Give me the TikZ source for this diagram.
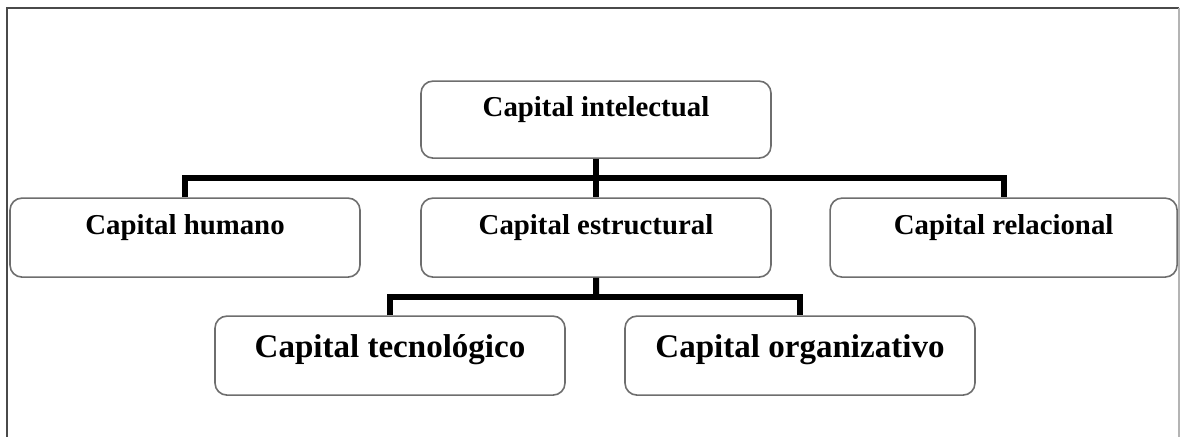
\documentclass[tikz,border=0pt]{standalone}
\usepackage{fontspec}
\setmainfont{Liberation Serif}
\usepackage{tikz}
\usetikzlibrary{calc}
\definecolor{boxframe}{HTML}{6E6E6E}
\definecolor{frameline}{HTML}{4A4A4A}
\definecolor{framelight}{HTML}{B4B4B4}

\begin{document}
\begin{tikzpicture}[
    every node/.style={font=\bfseries},
    capbox/.style={
        rectangle,
        rounded corners=0.3cm,
        minimum width=8.75cm,
        inner sep=0pt,
        draw=boxframe,
        line width=0.04cm,
        text height=0.9cm,
        text depth=1.075cm,
        font=\bfseries\fontsize{20.5}{24}\selectfont
    },
    subbox/.style={
        capbox,
        text height=1.025cm,
        text depth=0.95cm,
        font=\bfseries\fontsize{23.5}{28}\selectfont
    },
    link/.style={line width=0.15cm, black}
]
    \useasboundingbox (0,0) rectangle (29.525,-10.925);
    \fill[white] (0,0) rectangle (29.525,-10.925);

    % === OUTER FRAME ===
    \draw[frameline, line width=0.05cm] (0.175,-10.925) -- (0.175,-0.2) -- (29.475,-0.2);
    \draw[framelight, line width=0.05cm] (29.475,-0.2) -- (29.475,-10.925);

    % === TOP LEVEL ===
    \node[capbox, text height=0.875cm, text depth=1.05cm] (intel) at (14.9,-2.99) {Capital intelectual};

    % === SECOND LEVEL ===
    \node[capbox] (humano) at (4.625,-5.94) {Capital humano};
    \node[capbox] (estructural) at (14.9,-5.94) {Capital estructural};
    \node[capbox, minimum width=8.675cm] (relacional) at (25.09,-5.94) {Capital relacional};

    % === THIRD LEVEL ===
    \node[subbox] (tecnologico) at (9.75,-8.89) {Capital tecnológico};
    \node[subbox] (organizativo) at (20.0,-8.89) {Capital organizativo};

    % Connectors from intel to second level
    \coordinate (barA) at ($(intel.south)!0.5!(estructural.north)$);
    \draw[link] (intel.south) -- (estructural.north);
    \draw[link] (humano.north) |- (barA) -| (relacional.north);

    % Connectors from estructural to third level
    \coordinate (barB) at ($(estructural.south)!0.5!(tecnologico.north -| estructural.south)$);
    \draw[link] (estructural.south) -- (barB);
    \draw[link] (tecnologico.north) |- (barB) -| (organizativo.north);
\end{tikzpicture}
\end{document}
